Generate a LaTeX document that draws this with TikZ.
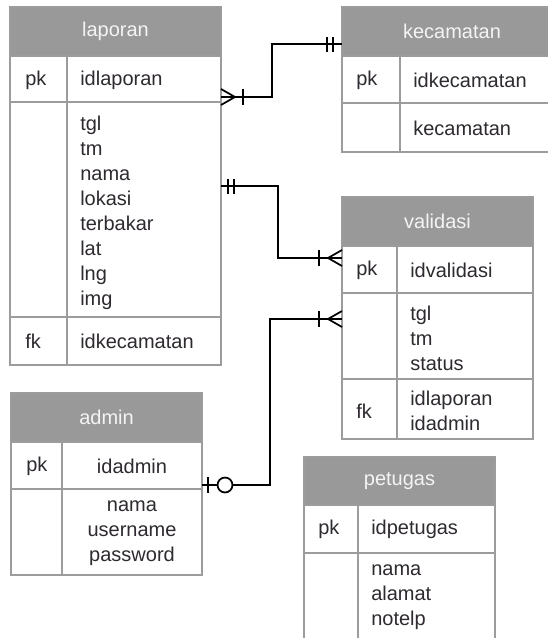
\documentclass[tikz,border=0pt]{standalone}
\usepackage{fontspec}
\setmainfont{Liberation Sans}
\definecolor{hdrcol}{HTML}{999999}
\definecolor{bordercol}{HTML}{9C9C9C}
\definecolor{txtcol}{HTML}{2E2A30}
\definecolor{htxtcol}{HTML}{F4F4F4}
\tikzset{
  tbl/.style={draw=bordercol, line width=1.2pt},
  hdrfill/.style={fill=hdrcol},
  htxt/.style={text=htxtcol, font=\fontsize{15}{18.75}\selectfont, inner sep=0pt},
  ftxt/.style={text=txtcol, font=\fontsize{15}{18.75}\selectfont, inner sep=0pt, align=left, anchor=west},
  ctxt/.style={text=txtcol, font=\fontsize{15}{18.75}\selectfont, inner sep=0pt, align=center},
  conn/.style={draw=black, line width=1.3pt},
}
\begin{document}
\begin{tikzpicture}[x=0.75pt,y=-0.75pt]
\useasboundingbox (0,0) rectangle (548,638);
\clip (0,0) rectangle (548,638);
\fill[white] (0,0) rectangle (548,638);

% ---------- laporan ----------
\fill[hdrfill] (10,7) rectangle (221,56);
\draw[tbl] (10,7) rectangle (221,365);
\draw[tbl] (10,56) -- (221,56) (10,102) -- (221,102) (10,317) -- (221,317) (67,56) -- (67,365);
\node[htxt] (lapH) at (115.5,31.5) {laporan};
\node[ftxt] (lapPk) at (25,80) {pk};
\node[ftxt] (lapId) at (80,80) {idlaporan};
\node[ftxt] (lapAt) at (80,213) {tgl\\tm\\nama\\lokasi\\terbakar\\lat\\lng\\img};
\node[ftxt] (lapFk) at (25,341) {fk};
\node[ftxt] (lapFkN) at (80,341) {idkecamatan};

% ---------- kecamatan ----------
\fill[hdrfill] (342,7) rectangle (562,56);
\draw[tbl] (342,7) rectangle (562,152);
\draw[tbl] (342,56) -- (562,56) (342,103) -- (562,103) (400,56) -- (400,152);
\node[htxt] (kecH) at (452,31.5) {kecamatan};
\node[ftxt] (kecPk) at (356,80) {pk};
\node[ftxt] (kecId) at (413,80) {idkecamatan};
\node[ftxt] (kecAt) at (413,128) {kecamatan};

% ---------- validasi ----------
\fill[hdrfill] (342,197) rectangle (533,246);
\draw[tbl] (342,197) rectangle (533,439);
\draw[tbl] (342,246) -- (533,246) (342,293) -- (533,293) (342,379) -- (533,379) (397,246) -- (397,439);
\node[htxt] (valH) at (437.5,221.5) {validasi};
\node[ftxt] (valPk) at (356,270) {pk};
\node[ftxt] (valId) at (410,270) {idvalidasi};
\node[ftxt] (valAt) at (410,338) {tgl\\tm\\status};
\node[ftxt] (valFk) at (356,411) {fk};
\node[ftxt] (valFkN) at (410,411) {idlaporan\\idadmin};

% ---------- admin ----------
\fill[hdrfill] (11,393) rectangle (202,442);
\draw[tbl] (11,393) rectangle (202,575);
\draw[tbl] (11,442) -- (202,442) (11,489) -- (202,489) (62,442) -- (62,575);
\node[htxt] (admH) at (106.5,417.5) {admin};
\node[ftxt] (admPk) at (26,466) {pk};
\node[ctxt] (admId) at (132,466) {idadmin};
\node[ctxt] (admAt) at (132,533) {nama\\username\\password};

% ---------- petugas ----------
\fill[hdrfill] (304,457) rectangle (495,505);
\draw[tbl] (304,457) rectangle (495,700);
\draw[tbl] (304,505) -- (495,505) (304,553) -- (495,553) (358,505) -- (358,700);
\node[htxt] (petH) at (399.5,481) {petugas};
\node[ftxt] (petPk) at (318,529) {pk};
\node[ftxt] (petId) at (371,529) {idpetugas};
\node[ftxt] (petAt) at (371,597) {nama\\alamat\\notelp};

% ---------- connectors ----------
\coordinate (c1a) at (221,97);
\coordinate (c1b) at (342,44);
\draw[conn] (c1a) -- ++(51,0) |- (c1b);
\draw[conn] (221,89) -- (235,97) -- (221,105);
\draw[conn] (243,89) -- (243,105);
\draw[conn] (327,37) -- (327,52) (333,37) -- (333,52);

\coordinate (c2a) at (221,186);
\coordinate (c2b) at (342,258);
\draw[conn] (c2a) -- ++(57,0) |- (c2b);
\draw[conn] (228,179) -- (228,194) (234,179) -- (234,194);
\draw[conn] (342,250) -- (328,258) -- (342,266);
\draw[conn] (319,250) -- (319,266);

\coordinate (c3a) at (202,485);
\coordinate (c3b) at (342,319);
\draw[conn] (c3a) -- ++(68,0) |- (c3b);
\draw[conn] (208,477) -- (208,493);
\draw[conn, fill=white] (225,485) circle[radius=5.6pt];
\draw[conn] (342,311) -- (328,319) -- (342,327);
\draw[conn] (319,311) -- (319,327);
\end{tikzpicture}
\end{document}
